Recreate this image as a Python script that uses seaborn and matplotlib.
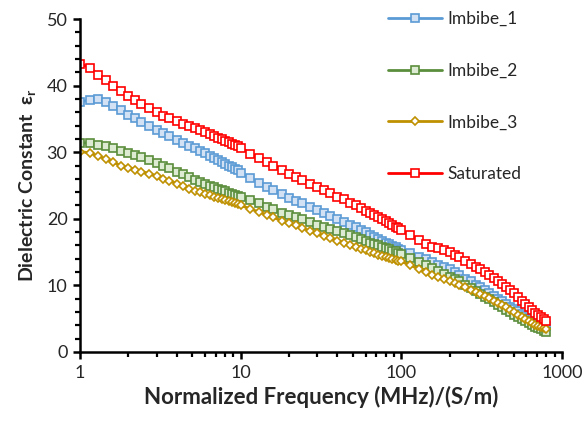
import matplotlib
matplotlib.use("Agg")
import matplotlib.pyplot as plt
import matplotlib.ticker as mticker
import seaborn as sns
import numpy as np

# ---- data ----
freq = [1.0, 1.15, 1.3, 1.45, 1.6, 1.8, 2.0, 2.2, 2.4, 2.7, 3.0, 3.3, 3.6, 4.0, 4.4, 4.8, 5.2, 5.6,
        6.0, 6.4, 6.8, 7.2, 7.6, 8.0, 8.4, 8.8, 9.2, 9.6,
        10, 11.5, 13, 14.5, 16, 18, 20, 22, 24, 27, 30, 33, 36, 40, 44, 48, 52, 56,
        60, 64, 68, 72, 76, 80, 84, 88, 92, 96,
        100, 114, 128, 142, 156, 170, 185, 200, 215, 230, 250, 270, 290, 310, 330, 350,
        375, 400, 425, 450, 475, 500, 530, 560, 590, 620, 650, 680, 710, 740, 770, 800]

imbibe_1 = [37.6, 37.8, 38.0, 37.6, 37.0, 36.3, 35.6, 35.1, 34.6, 34.0, 33.4, 32.9, 32.4, 31.9, 31.4, 30.9, 30.6, 30.2,
            29.9, 29.5, 29.2, 28.9, 28.6, 28.3, 28.0, 27.8, 27.5, 27.3,
            26.9, 26.1, 25.4, 24.8, 24.3, 23.7, 23.1, 22.7, 22.3, 21.8, 21.3, 20.8, 20.4, 19.9, 19.5, 19.1, 18.7, 18.3,
            18.0, 17.6, 17.3, 17.0, 16.7, 16.4, 16.2, 15.9, 15.7, 15.5,
            15.3, 14.8, 14.3, 13.9, 13.5, 13.1, 12.7, 12.4, 12.0, 11.6, 11.0, 10.6, 10.1, 9.7, 9.3, 8.9,
            8.4, 8.0, 7.6, 7.2, 6.8, 6.5, 6.1, 5.7, 5.4, 5.1, 4.9, 4.6, 4.4, 4.2, 4.0, 3.9]

imbibe_2 = [31.4, 31.4, 31.1, 30.9, 30.6, 30.2, 29.9, 29.6, 29.3, 28.8, 28.4, 28.0, 27.6, 27.1, 26.7, 26.3, 25.9, 25.6,
            25.3, 25.0, 24.8, 24.5, 24.3, 24.1, 23.9, 23.7, 23.5, 23.4,
            23.3, 22.8, 22.3, 21.8, 21.4, 20.9, 20.5, 20.2, 19.9, 19.5, 19.1, 18.8, 18.5, 18.1, 17.8, 17.5, 17.2, 16.9,
            16.7, 16.4, 16.2, 16.0, 15.8, 15.6, 15.4, 15.2, 15.1, 14.9,
            14.7, 14.1, 13.5, 13.0, 12.6, 12.1, 11.7, 11.3, 10.9, 10.6, 10.1, 9.6, 9.2, 8.7, 8.3, 7.9,
            7.5, 7.1, 6.7, 6.3, 6.0, 5.6, 5.3, 4.9, 4.6, 4.3, 4.1, 3.8, 3.6, 3.4, 3.2, 3.0]

imbibe_3 = [30.1, 29.9, 29.4, 29.0, 28.5, 28.0, 27.7, 27.4, 27.1, 26.8, 26.4, 26.0, 25.7, 25.3, 24.9, 24.5, 24.2, 24.0,
            23.7, 23.5, 23.3, 23.1, 22.9, 22.8, 22.6, 22.5, 22.3, 22.2,
            22.0, 21.5, 21.0, 20.6, 20.2, 19.7, 19.3, 19.0, 18.6, 18.2, 17.8, 17.4, 17.1, 16.7, 16.4, 16.1, 15.8, 15.5,
            15.3, 15.0, 14.8, 14.6, 14.4, 14.3, 14.1, 13.9, 13.8, 13.6,
            13.6, 13.0, 12.5, 12.0, 11.6, 11.3, 10.9, 10.6, 10.3, 10.0, 9.7, 9.3, 9.0, 8.7, 8.4, 8.1,
            7.7, 7.4, 7.0, 6.7, 6.3, 6.0, 5.6, 5.2, 4.9, 4.6, 4.4, 4.1, 3.9, 3.7, 3.6, 3.5]

saturated = [43.3, 42.7, 41.6, 40.9, 40.0, 39.2, 38.4, 37.8, 37.2, 36.6, 36.0, 35.5, 35.1, 34.7, 34.3, 34.0, 33.6, 33.3,
             33.0, 32.7, 32.4, 32.2, 32.0, 31.7, 31.5, 31.3, 31.1, 30.9,
             30.7, 29.8, 29.1, 28.5, 28.0, 27.3, 26.8, 26.3, 25.9, 25.3, 24.8, 24.3, 23.9, 23.3, 22.9, 22.4, 22.0, 21.6,
             21.2, 20.9, 20.5, 20.2, 19.9, 19.6, 19.4, 19.1, 18.8, 18.6,
             18.3, 17.5, 16.8, 16.2, 15.8, 15.6, 15.3, 15.0, 14.6, 14.2, 13.7, 13.2, 12.8, 12.4, 12.0, 11.6,
             11.1, 10.6, 10.2, 9.7, 9.3, 8.8, 8.3, 7.7, 7.2, 6.7, 6.3, 5.9, 5.5, 5.2, 4.9, 4.6]

series_names = ["Imbibe_1", "Imbibe_2", "Imbibe_3", "Saturated"]
x_tick_values = [1, 10, 100, 1000]
x_tick_labels = ["1", "10", "100", "1000"]
y_tick_values = [0, 10, 20, 30, 40, 50]

# ---- style ----
sns.set_style("ticks")
plt.rcParams["font.family"] = ["Lato", "DejaVu Sans"]
plt.rcParams["mathtext.fontset"] = "custom"
plt.rcParams["mathtext.rm"] = "Lato:bold"
plt.rcParams["mathtext.it"] = "Lato:bold"
plt.rcParams["mathtext.bf"] = "Lato:bold"

W, H = 584, 424
fig = plt.figure(figsize=(W / 100, H / 100), dpi=100)
ax = fig.add_axes([80 / W, 72 / H, 482 / W, 333 / H])

styles = [
    dict(color="#5B9BD5", marker="s", markersize=6, markerfacecolor="#D2E2F4", markeredgecolor="#5B9BD5"),
    dict(color="#5B8E3C", marker="s", markersize=6, markerfacecolor="#DCEBD2", markeredgecolor="#5B8E3C"),
    dict(color="#BF9000", marker="D", markersize=4.3, markerfacecolor="white", markeredgecolor="#BF9000"),
    dict(color="#FF0000", marker="s", markersize=6, markerfacecolor="white", markeredgecolor="#FF0000"),
]
all_series = [imbibe_1, imbibe_2, imbibe_3, saturated]

for name, vals, st in zip(series_names, all_series, styles):
    sns.lineplot(x=freq, y=vals, ax=ax, estimator=None, sort=False, label=name,
                 linewidth=2, markeredgewidth=1.2, **st)

ax.set_xscale("log")
ax.set_xlim(1, 1000)
ax.set_ylim(0, 50)
ax.set_xticks(x_tick_values)
ax.set_xticklabels(x_tick_labels)
ax.xaxis.set_minor_locator(mticker.LogLocator(base=10, subs=np.arange(2, 10)))
ax.xaxis.set_minor_formatter(mticker.NullFormatter())
ax.set_yticks(y_tick_values)
ax.yaxis.set_minor_locator(mticker.MultipleLocator(2))

for s in ["top", "right"]:
    ax.spines[s].set_visible(False)
for s in ["left", "bottom"]:
    ax.spines[s].set_linewidth(1.8)
    ax.spines[s].set_color("black")

ax.tick_params(axis="both", which="major", direction="out", length=5, width=1.8,
               color="black", labelsize=13, labelcolor="#262626", pad=4)
ax.tick_params(axis="both", which="minor", direction="out", length=3.5, width=1.6, color="black")

ax.set_xlabel("Normalized Frequency (MHz)/(S/m)", fontsize=16, fontweight="bold", labelpad=4)
ax.set_ylabel("Dielectric Constant  ε$_\\mathrm{r}$", fontsize=14, fontweight="bold", labelpad=6)

leg = ax.legend(loc="upper left", bbox_to_anchor=(388 / W, 413 / H),
                bbox_transform=fig.transFigure, frameon=False, fontsize=12.5,
                handlelength=3.1, handletextpad=0.3, labelspacing=2.06,
                borderpad=0, borderaxespad=0)

fig.savefig("out.png", dpi=100)
